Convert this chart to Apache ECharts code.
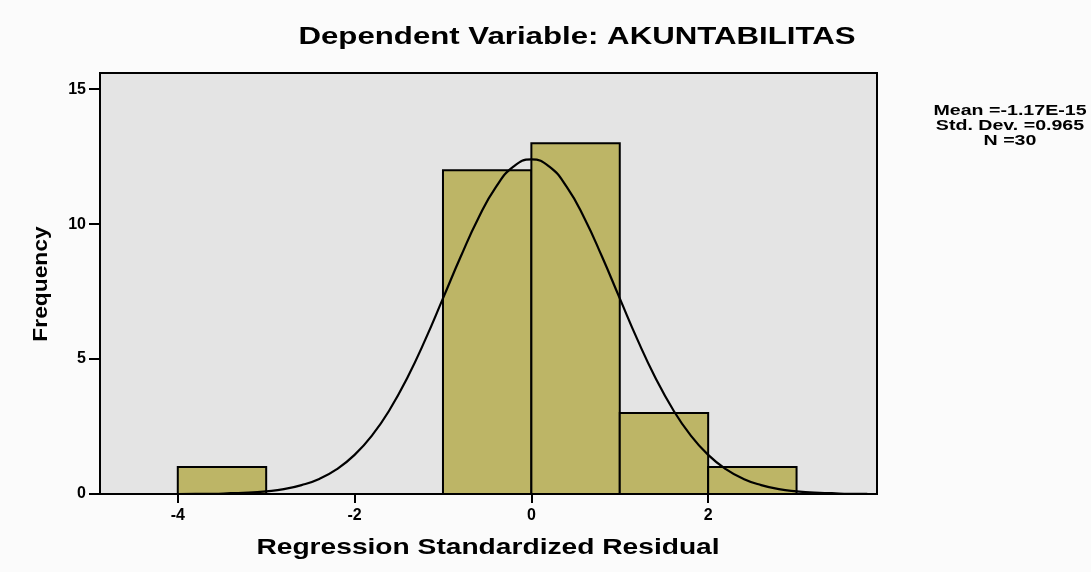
<!DOCTYPE html>
<html>
<head>
<meta charset="utf-8">
<script src="https://cdn.jsdelivr.net/npm/echarts@6/dist/echarts.min.js"></script>
<style>html,body{margin:0;padding:0;background:#fbfbfb;}#c{width:1091px;height:572px;}</style>
</head>
<body>
<div id="c"></div>
<script>
// Histogram bins: [start, end, frequency]
var binStart = [-4, -1, 0, 1, 2];
var binEnd = [-3, 0, 1, 2, 3];
var binFreq = [1, 12, 13, 3, 1];
// Normal curve points
var curveX = [-4.0,-3.8,-3.6,-3.4,-3.2,-3.0,-2.8,-2.6,-2.4,-2.2,-2.0,-1.8,-1.6,-1.4,-1.2,-1.0,-0.8,-0.6,-0.4,-0.2,0.0,0.2,0.4,0.6,0.8,1.0,1.2,1.4,1.6,1.8,2.0,2.2,2.4,2.6,2.8,3.0,3.2,3.4,3.6,3.8];
var curveY = [0.00,0.01,0.01,0.03,0.05,0.10,0.18,0.33,0.56,0.92,1.45,2.18,3.14,4.33,5.72,7.25,8.79,10.22,11.38,12.14,12.40,12.14,11.38,10.22,8.79,7.25,5.72,4.33,3.14,2.18,1.45,0.92,0.56,0.33,0.18,0.10,0.05,0.03,0.01,0.01];
var xTicks = [-4, -2, 0, 2];
var yTicks = [0, 5, 10, 15];
var titleText = 'Dependent Variable: AKUNTABILITAS';
var xName = 'Regression Standardized Residual';
var yName = 'Frequency';
var statsLines = ['Mean =-1.17E-15', 'Std. Dev. =0.965', 'N =30'];

var barData = binStart.map(function (s, i) { return [s, binEnd[i], binFreq[i]]; });
var curveData = curveX.map(function (x, i) { return [x, curveY[i]]; });

var chart = echarts.init(document.getElementById('c'));
var FONT = '"Liberation Sans", Arial, sans-serif';

var graphics = [
  {
    type: 'text', x: 577, y: 37, scaleX: 1.30,
    style: { text: titleText, fill: '#000', font: 'bold 24px ' + FONT, textAlign: 'center', textVerticalAlign: 'middle' }
  },
  {
    type: 'text', x: 488, y: 548, scaleX: 1.28,
    style: { text: xName, fill: '#000', font: 'bold 22px ' + FONT, textAlign: 'center', textVerticalAlign: 'middle' }
  },
  {
    type: 'text', x: 41, y: 284, rotation: Math.PI / 2, scaleX: 1.14,
    style: { text: yName, fill: '#000', font: 'bold 20px ' + FONT, textAlign: 'center', textVerticalAlign: 'middle' }
  }
];
statsLines.forEach(function (t, i) {
  graphics.push({
    type: 'text', x: 1010, y: 111 + i * 15, scaleX: 1.4,
    style: { text: t, fill: '#000', font: 'bold 14px ' + FONT, textAlign: 'center', textVerticalAlign: 'middle' }
  });
});

chart.setOption({
  backgroundColor: '#fbfbfb',
  animation: false,
  grid: {
    left: 100, top: 73, right: 214, bottom: 78,
    show: true, backgroundColor: '#e4e4e4', borderColor: '#000', borderWidth: 2
  },
  xAxis: {
    type: 'value', min: -4.88, max: 3.91,
    axisLine: { show: true, onZero: false, lineStyle: { color: '#000', width: 2 } },
    axisTick: { show: true, customValues: xTicks, length: 9, lineStyle: { color: '#000', width: 2 } },
    axisLabel: { customValues: xTicks, fontFamily: FONT, fontWeight: 'bold', fontSize: 16, color: '#000', margin: 14 },
    splitLine: { show: false }
  },
  yAxis: {
    type: 'value', min: 0, max: 15.6,
    axisLine: { show: true, onZero: false, lineStyle: { color: '#000', width: 2 } },
    axisTick: { show: true, customValues: yTicks, length: 11, lineStyle: { color: '#000', width: 2 } },
    axisLabel: { customValues: yTicks, fontFamily: FONT, fontWeight: 'bold', fontSize: 16, color: '#000', margin: 14 },
    splitLine: { show: false }
  },
  graphic: graphics,
  series: [
    {
      type: 'custom',
      data: barData,
      encode: { x: [0, 1], y: 2 },
      renderItem: function (params, api) {
        var p0 = api.coord([api.value(0), api.value(2)]);
        var p1 = api.coord([api.value(1), 0]);
        return {
          type: 'rect',
          shape: { x: p0[0], y: p0[1], width: p1[0] - p0[0], height: p1[1] - p0[1] },
          style: { fill: '#bdb566', stroke: '#000', lineWidth: 2 }
        };
      },
      z: 2
    },
    {
      type: 'line', data: curveData, smooth: true, showSymbol: false, symbol: 'none',
      lineStyle: { color: '#000', width: 2.2 }, z: 3
    }
  ]
});
</script>
</body>
</html>
